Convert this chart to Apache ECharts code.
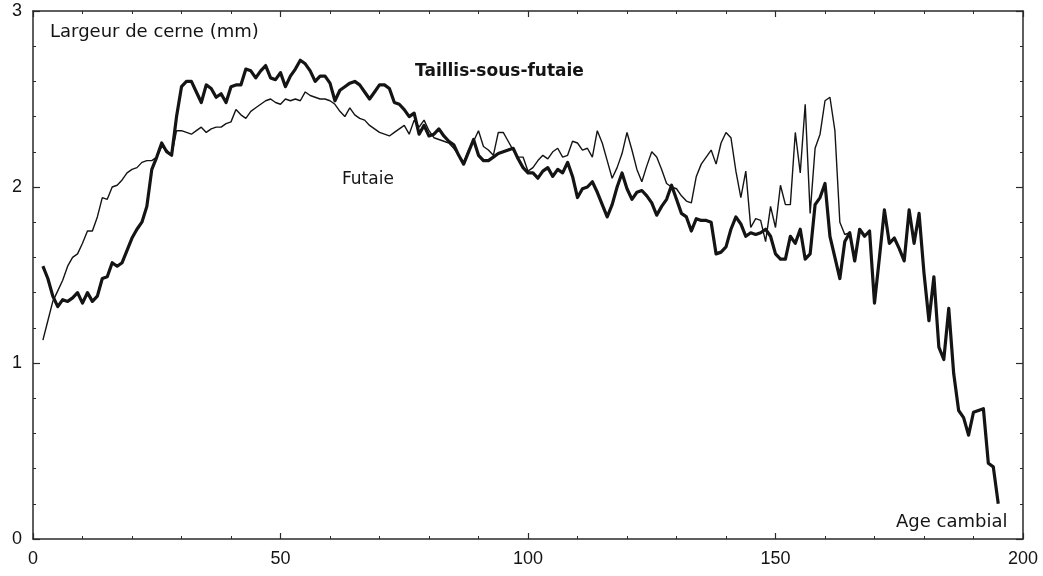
<!DOCTYPE html>
<html>
<head>
<meta charset="utf-8">
<script src="https://cdn.jsdelivr.net/npm/echarts@6/dist/echarts.min.js"></script>
<style>
  html, body { margin: 0; padding: 0; background: #ffffff; }
  #chart { width: 1043px; height: 576px; }
</style>
</head>
<body>
<div id="chart"></div>
<script>
// Cambial age (years) of the first measured ring for each series
const tsfStartAge = 2;
const futStartAge = 2;

// Taillis-sous-futaie: ring width (mm), one value per year from age 2
const tsfWidths = [
  1.55, 1.48, 1.38, 1.32, 1.36, 1.35, 1.37, 1.40, 1.34, 1.40,
  1.35, 1.38, 1.48, 1.49, 1.57, 1.55, 1.57, 1.64, 1.71, 1.76,
  1.80, 1.89, 2.10, 2.17, 2.25, 2.20, 2.18, 2.40, 2.57, 2.60,
  2.60, 2.54, 2.48, 2.58, 2.56, 2.51, 2.53, 2.48, 2.57, 2.58,
  2.58, 2.67, 2.66, 2.62, 2.66, 2.69, 2.62, 2.61, 2.65, 2.57,
  2.63, 2.67, 2.72, 2.70, 2.66, 2.60, 2.63, 2.63, 2.59, 2.49,
  2.55, 2.57, 2.59, 2.60, 2.58, 2.54, 2.50, 2.54, 2.58, 2.58,
  2.56, 2.48, 2.47, 2.44, 2.40, 2.42, 2.30, 2.35, 2.29, 2.30,
  2.33, 2.29, 2.26, 2.24, 2.18, 2.13, 2.20, 2.27, 2.18, 2.15,
  2.15, 2.17, 2.19, 2.20, 2.21, 2.22, 2.16, 2.11, 2.08, 2.08,
  2.05, 2.09, 2.11, 2.06, 2.10, 2.08, 2.14, 2.06, 1.94, 1.99,
  2.00, 2.03, 1.97, 1.90, 1.83, 1.90, 2.00, 2.08, 1.99, 1.93,
  1.97, 1.98, 1.95, 1.91, 1.84, 1.89, 1.93, 2.01, 1.93, 1.85,
  1.83, 1.75, 1.82, 1.81, 1.81, 1.80, 1.62, 1.63, 1.66, 1.76,
  1.83, 1.79, 1.72, 1.74, 1.73, 1.74, 1.76, 1.72, 1.62, 1.59,
  1.59, 1.72, 1.68, 1.76, 1.59, 1.62, 1.90, 1.94, 2.02, 1.72,
  1.60, 1.48, 1.69, 1.74, 1.58, 1.76, 1.72, 1.75, 1.34, 1.60,
  1.87, 1.68, 1.71, 1.65, 1.58, 1.87, 1.68, 1.85, 1.51, 1.24,
  1.49, 1.09, 1.02, 1.31, 0.94, 0.73, 0.69, 0.59, 0.72, 0.73,
  0.74, 0.43, 0.41, 0.20
];

// Futaie: ring width (mm), one value per year from age 2
const futWidths = [
  1.13, 1.24, 1.35, 1.41, 1.47, 1.55, 1.60, 1.62, 1.68, 1.75,
  1.75, 1.83, 1.94, 1.93, 2.00, 2.01, 2.04, 2.08, 2.10, 2.11,
  2.14, 2.15, 2.15, 2.17, 2.23, 2.21, 2.18, 2.32, 2.32, 2.31,
  2.30, 2.32, 2.34, 2.31, 2.33, 2.34, 2.34, 2.36, 2.37, 2.44,
  2.41, 2.39, 2.43, 2.45, 2.47, 2.49, 2.50, 2.48, 2.47, 2.50,
  2.49, 2.50, 2.49, 2.54, 2.52, 2.51, 2.50, 2.50, 2.49, 2.47,
  2.43, 2.40, 2.45, 2.41, 2.39, 2.38, 2.35, 2.33, 2.31, 2.30,
  2.29, 2.31, 2.33, 2.35, 2.30, 2.38, 2.34, 2.38, 2.32, 2.28,
  2.27, 2.26, 2.25, 2.22, 2.18, 2.14, 2.21, 2.26, 2.32, 2.23,
  2.21, 2.18, 2.31, 2.31, 2.26, 2.21, 2.17, 2.17, 2.09, 2.11,
  2.15, 2.18, 2.16, 2.20, 2.22, 2.17, 2.18,
  2.26, 2.25, 2.21, 2.22, 2.17, 2.32, 2.25, 2.15, 2.05, 2.11,
  2.19, 2.31, 2.21, 2.10, 2.03, 2.12, 2.20, 2.17, 2.10, 2.02,
  2.00, 1.99, 1.95, 1.92, 1.91, 2.06, 2.13, 2.17, 2.21, 2.13,
  2.25, 2.31, 2.28, 2.09, 1.94, 2.09, 1.77, 1.82, 1.81, 1.69,
  1.89, 1.77, 2.01, 1.90, 1.90, 2.31, 2.08, 2.47, 1.85, 2.22,
  2.30, 2.49, 2.51, 2.32, 1.80, 1.73, 1.74
];

// Axis ticks / labels
const xMin = 0, xMax = 200, xStep = 50;
const yMin = 0, yMax = 3, yStep = 1;

// Annotation texts
const yTitle = 'Largeur de cerne (mm)';
const xTitle = 'Age cambial';
const tsfName = 'Taillis-sous-futaie';
const futName = 'Futaie';

const tsfData = tsfWidths.map((v, i) => [tsfStartAge + i, v]);
const futData = futWidths.map((v, i) => [futStartAge + i, v]);

const ink = '#141414';
const frame = '#2a2a2a';
const labelFont = 'Liberation Sans, Arial, sans-serif';
const textFont = 'DejaVu Sans, sans-serif';

function xAxisCfg(pos, showLabels) {
  return {
    type: 'value', position: pos, min: xMin, max: xMax, interval: xStep,
    axisLine: { show: true, onZero: false, lineStyle: { color: frame, width: 1.5 } },
    axisTick: { show: true, inside: true, length: 6, lineStyle: { color: frame, width: 1.2 } },
    minorTick: { show: true, splitNumber: 5, length: 3, lineStyle: { color: frame, width: 1 } },
    splitLine: { show: false }, minorSplitLine: { show: false },
    axisLabel: { show: showLabels, margin: 11, color: ink, fontSize: 18, fontFamily: labelFont }
  };
}
function yAxisCfg(pos, showLabels) {
  return {
    type: 'value', position: pos, min: yMin, max: yMax, interval: yStep,
    axisLine: { show: true, onZero: false, lineStyle: { color: frame, width: 1.5 } },
    axisTick: { show: true, inside: true, length: 7, lineStyle: { color: frame, width: 1.2 } },
    minorTick: { show: true, splitNumber: 5, length: 3, lineStyle: { color: frame, width: 1 } },
    splitLine: { show: false }, minorSplitLine: { show: false },
    axisLabel: { show: showLabels, margin: 11, color: ink, fontSize: 18, fontFamily: labelFont }
  };
}

const chart = echarts.init(document.getElementById('chart'), null, { renderer: 'canvas' });
chart.setOption({
  backgroundColor: '#ffffff',
  animation: false,
  grid: { left: 33, right: 20, top: 11, bottom: 37, containLabel: false },
  xAxis: [xAxisCfg('bottom', true), xAxisCfg('top', false)],
  yAxis: [yAxisCfg('left', true), yAxisCfg('right', false)],
  series: [
    {
      name: futName, type: 'line', xAxisIndex: 0, yAxisIndex: 0,
      data: futData, showSymbol: false, symbol: 'none',
      lineStyle: { color: ink, width: 1.4 }, z: 2
    },
    {
      name: tsfName, type: 'line', xAxisIndex: 0, yAxisIndex: 0,
      data: tsfData, showSymbol: false, symbol: 'none',
      lineStyle: { color: ink, width: 3.2, join: 'round' }, z: 3
    }
  ],
  graphic: [
    { type: 'text', x: 50, y: 32, style: { text: yTitle, fill: ink, font: '18px ' + textFont, verticalAlign: 'middle', align: 'left' } },
    { type: 'text', x: 415, y: 72, style: { text: tsfName, fill: ink, font: 'bold 17px ' + textFont, verticalAlign: 'middle', align: 'left' } },
    { type: 'text', x: 342, y: 180, style: { text: futName, fill: ink, font: '17px ' + textFont, verticalAlign: 'middle', align: 'left' } },
    { type: 'text', x: 896, y: 522, style: { text: xTitle, fill: ink, font: '18px ' + textFont, verticalAlign: 'middle', align: 'left' } }
  ]
});
</script>
</body>
</html>
